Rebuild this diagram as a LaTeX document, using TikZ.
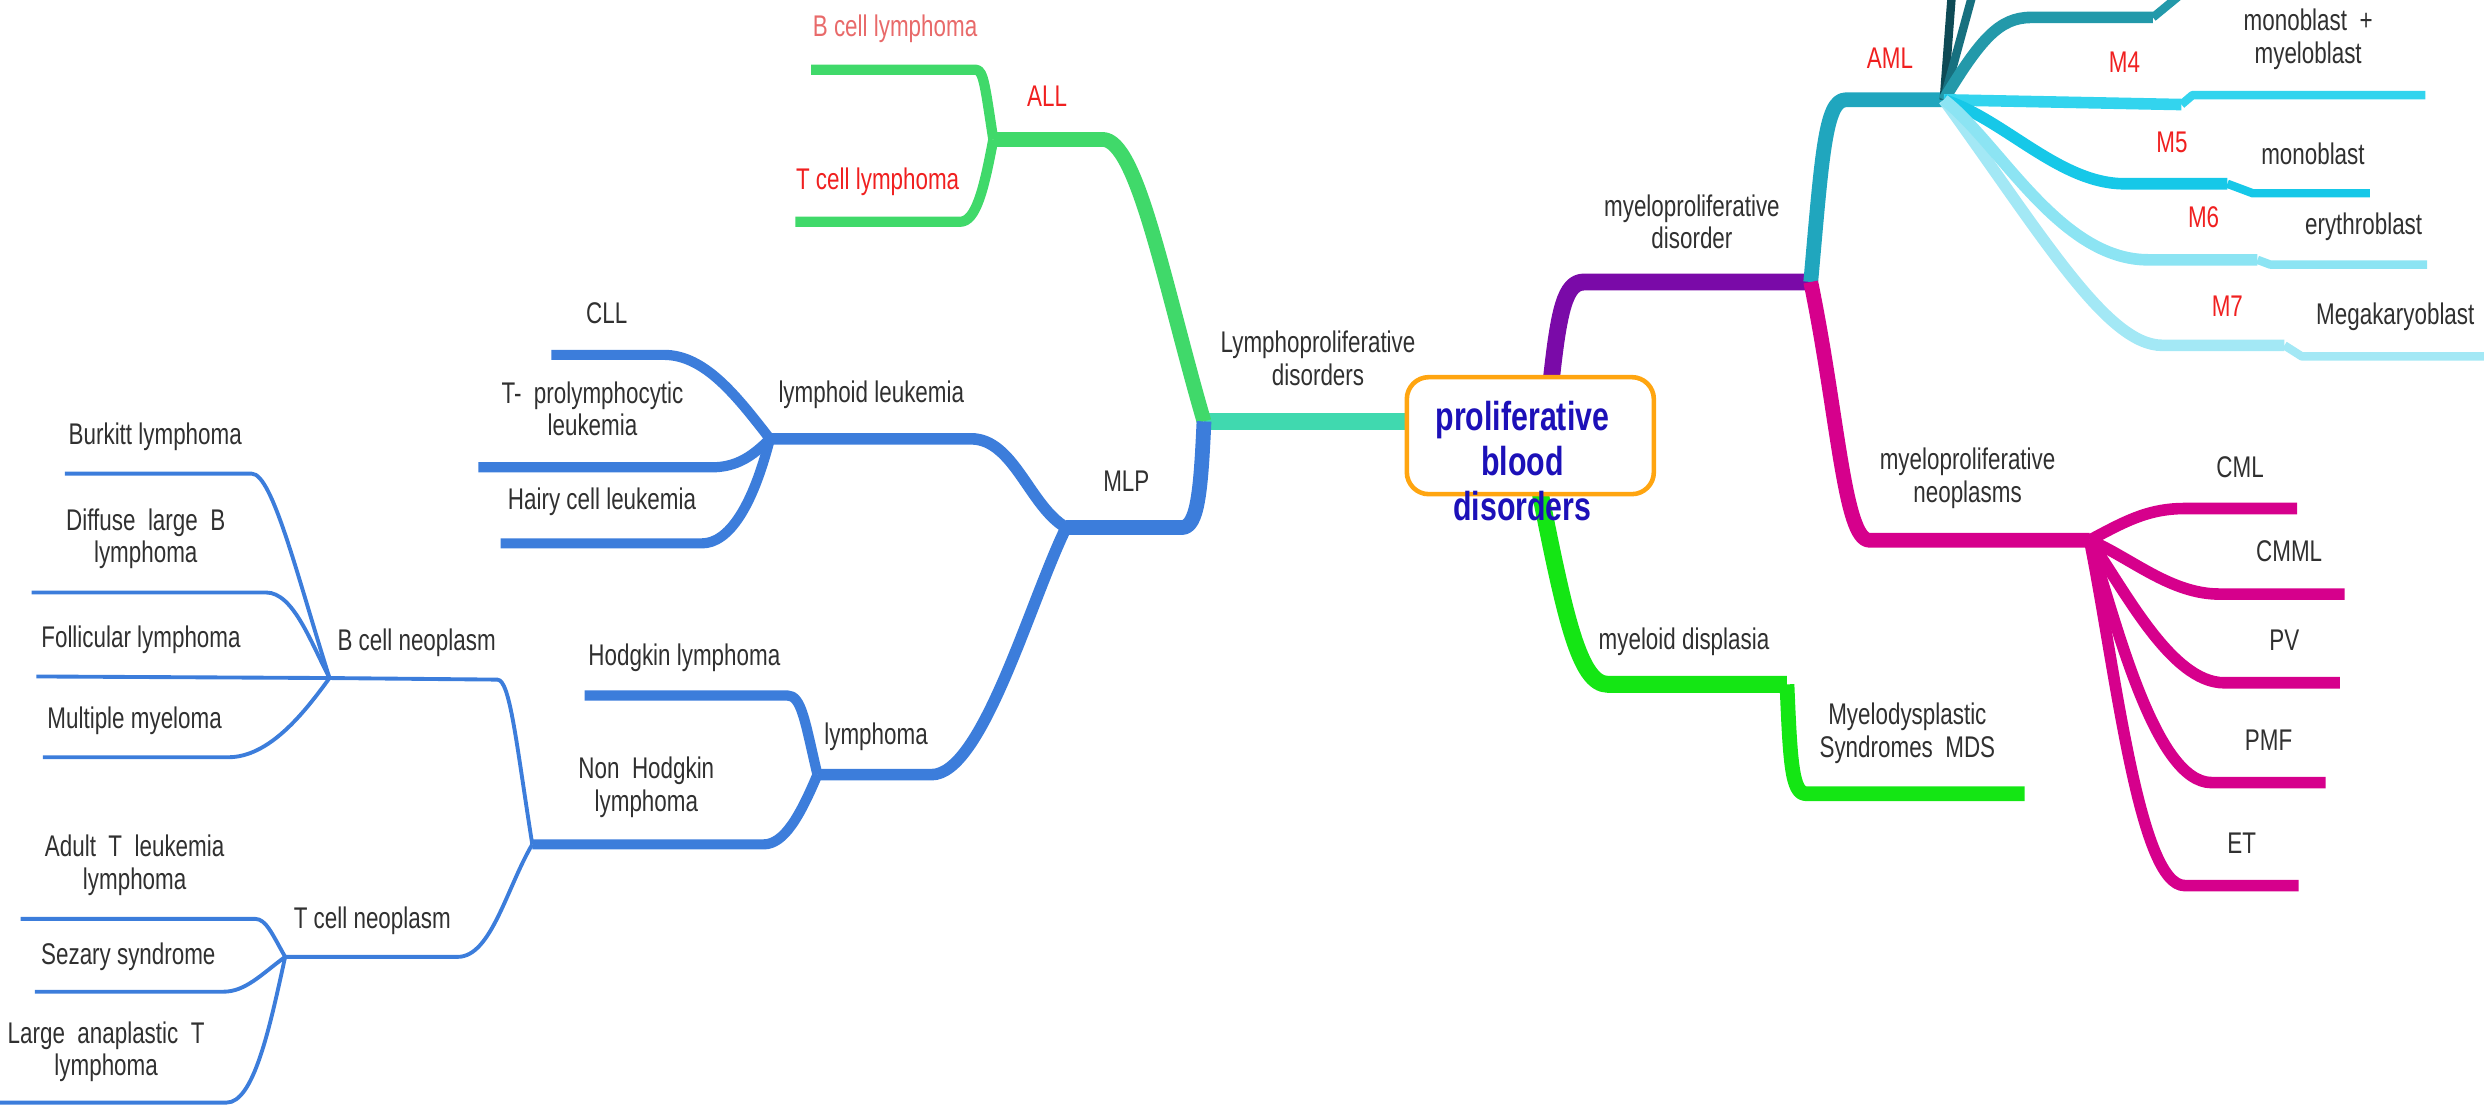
\documentclass[tikz,border=0pt]{standalone}
\usepackage{fontspec}
\setmainfont{Liberation Sans}[FakeStretch=0.75]
\definecolor{cTeal}{RGB}{64,217,175}
\definecolor{cGreenA}{RGB}{64,217,106}
\definecolor{cBlue}{RGB}{60,125,219}
\definecolor{cPurple}{RGB}{122,10,168}
\definecolor{cAML}{RGB}{32,166,190}
\definecolor{cDark}{RGB}{14,74,85}
\definecolor{cDarkB}{RGB}{23,112,127}
\definecolor{cMx}{RGB}{35,153,170}
\definecolor{cMfour}{RGB}{51,212,238}
\definecolor{cMfive}{RGB}{22,200,232}
\definecolor{cMsix}{RGB}{140,228,243}
\definecolor{cMseven}{RGB}{163,232,245}
\definecolor{cMag}{RGB}{214,0,140}
\definecolor{cGreenB}{RGB}{20,230,20}
\definecolor{cOrange}{RGB}{255,165,16}
\definecolor{cTxt}{RGB}{48,48,48}
\definecolor{cRed}{RGB}{240,32,32}
\definecolor{cPink}{RGB}{232,106,106}
\definecolor{cRoot}{RGB}{28,16,184}
\newcommand\labfont{\fontsize{8.5}{9.3}\selectfont}
\newcommand\rootfont{\fontsize{11.5}{12.8}\selectfont\bfseries}
\begin{document}
\begin{tikzpicture}[x=0.1584mm,y=-0.1584mm,
  line join=round, line cap=butt,
  wA/.style={line width=4.8pt},
  wB/.style={line width=4.2pt},
  wC/.style={line width=3.3pt},
  wD/.style={line width=2.9pt},
  wE/.style={line width=2.4pt},
  wF/.style={line width=1.1pt},
  lbl/.style={font=\labfont, text=cTxt, align=center, inner sep=0pt},
  redlbl/.style={lbl, text=cRed},
  rootbox/.style={draw=cOrange, line width=1.3pt, fill=white, rounded corners=2.2mm,
     minimum width=24.7mm, minimum height=11.7mm, inner sep=0pt},
  roottext/.style={font=\rootfont, text=cRoot, align=center, inner sep=0pt}]
\useasboundingbox (0,0) rectangle (1568,700);

% ---------- coordinates ----------
\coordinate (rL) at (890,266);
\coordinate (rT) at (979,242);
\coordinate (rB) at (972,310);
\coordinate (lpJ) at (760,266);
\coordinate (allJ) at (627,88);
\coordinate (bclE) at (512,44);
\coordinate (tclE) at (502,140);
\coordinate (mlpJ) at (673,333);
\coordinate (llJ) at (486,277);
\coordinate (cllE) at (348,224);
\coordinate (tproE) at (302,295);
\coordinate (hairyE) at (316,343);
\coordinate (lymJ) at (516,489);
\coordinate (hodE) at (369,439);
\coordinate (nhJ) at (336,533);
\coordinate (bnJ) at (208,428);
\coordinate (burE) at (41,299);
\coordinate (difE) at (20,374);
\coordinate (folE) at (23,427);
\coordinate (mulE) at (27,478);
\coordinate (tnJ) at (180,604);
\coordinate (adE) at (13,580);
\coordinate (sezE) at (22,626);
\coordinate (larE) at (0,696);
\coordinate (mdJ) at (1143,178);
\coordinate (amlJ) at (1227,63);
\coordinate (dOne) at (1232,-3);
\coordinate (dTwo) at (1245,-3);
\coordinate (mxJ) at (1359,11);
\coordinate (mxE) at (1376,-3);
\coordinate (mfourJ) at (1377,66);
\coordinate (mfourE) at (1531,60);
\coordinate (mfiveJ) at (1406,116);
\coordinate (mfiveE) at (1496,122);
\coordinate (msixJ) at (1425,164);
\coordinate (msixE) at (1532,167);
\coordinate (msevenJ) at (1442,218);
\coordinate (msevenE) at (1568,225);
\coordinate (mnJ) at (1319,341);
\coordinate (cmlE) at (1450,321);
\coordinate (cmmlE) at (1480,375);
\coordinate (pvE) at (1477,431);
\coordinate (pmfE) at (1468,494);
\coordinate (etE) at (1451,559);
\coordinate (mdsJ) at (1128,432);
\coordinate (mdsE) at (1278,501);

% ---------- left: lymphoproliferative ----------
\draw[wA, cTeal] (rL) -- (lpJ);
\draw[wB, cGreenA] (lpJ) .. controls (735,180) and (718,88) .. (696,88) -- (allJ);
\draw[wD, cGreenA] (allJ) .. controls (622,56) and (621,44) .. (616,44) -- (bclE);
\draw[wD, cGreenA] (allJ) .. controls (621,120) and (616,140) .. (606,140) -- (tclE);
\draw[wB, cBlue] (lpJ) .. controls (758,310) and (756,333) .. (746,333) -- (mlpJ);
\draw[wC, cBlue] (mlpJ) .. controls (650,320) and (640,277) .. (613,277) -- (llJ);
\draw[wD, cBlue] (llJ) .. controls (465,250) and (445,224) .. (419,224) -- (cllE);
\draw[wD, cBlue] (llJ) .. controls (475,288) and (465,295) .. (449,295) -- (tproE);
\draw[wD, cBlue] (llJ) .. controls (475,320) and (460,343) .. (443,343) -- (hairyE);
\draw[wC, cBlue] (mlpJ) .. controls (650,380) and (620,489) .. (588,489) -- (lymJ);
\draw[wD, cBlue] (lymJ) .. controls (508,455) and (506,439) .. (497,439) -- (hodE);
\draw[wD, cBlue] (lymJ) .. controls (505,515) and (495,533) .. (482,533) -- (nhJ);
\draw[wF, cBlue] (nhJ) .. controls (326,470) and (322,429) .. (314,429) -- (bnJ);
\draw[wF, cBlue] (nhJ) .. controls (320,560) and (310,604) .. (289,604) -- (tnJ);
\draw[wF, cBlue] (bnJ) .. controls (188,365) and (172,299) .. (159,299) -- (burE);
\draw[wF, cBlue] (bnJ) .. controls (196,405) and (185,374) .. (168,374) -- (difE);
\draw[wF, cBlue] (bnJ) -- (folE);
\draw[wF, cBlue] (bnJ) .. controls (192,450) and (170,478) .. (144,478) -- (mulE);
\draw[wF, cBlue] (tnJ) .. controls (172,590) and (168,580) .. (161,580) -- (adE);
\draw[wF, cBlue] (tnJ) .. controls (165,615) and (155,626) .. (141,626) -- (sezE);
\draw[wF, cBlue] (tnJ) .. controls (170,650) and (160,696) .. (143,696) -- (larE);

% ---------- right: myeloproliferative ----------
\draw[wA, cPurple] (rT) .. controls (984,195) and (988,178) .. (1000,178) -- (mdJ);
\draw[wB, cAML] (mdJ) .. controls (1150,100) and (1152,63) .. (1165,63) -- (amlJ);
\draw[wE, cDark] (amlJ) -- (dOne);
\draw[wE, cDarkB] (amlJ) -- (dTwo);
\draw[wC, cMx] (amlJ) .. controls (1250,25) and (1262,11) .. (1282,11) -- (mxJ);
\draw[wE, cMx] (mxJ) -- (mxE);
\draw[wC, cMfour] (amlJ) -- (mfourJ);
\draw[wE, cMfour] (mfourJ) -- (1384,60) -- (mfourE);
\draw[wC, cMfive] (amlJ) .. controls (1265,75) and (1300,116) .. (1341,116) -- (mfiveJ);
\draw[wE, cMfive] (mfiveJ) -- (1422,122) -- (mfiveE);
\draw[wC, cMseven] (amlJ) .. controls (1290,150) and (1330,218) .. (1365,218) -- (msevenJ);
\draw[wE, cMseven] (msevenJ) -- (1453,225) -- (msevenE);
\draw[wC, cMsix] (amlJ) .. controls (1262,90) and (1300,164) .. (1356,164) -- (msixJ);
\draw[wE, cMsix] (msixJ) -- (1433,167) -- (msixE);
\draw[wB, cMag] (mdJ) .. controls (1160,260) and (1164,341) .. (1180,341) -- (mnJ);
\draw[wC, cMag] (mnJ) .. controls (1340,330) and (1355,321) .. (1379,321) -- (cmlE);
\draw[wC, cMag] (mnJ) .. controls (1345,352) and (1370,375) .. (1401,375) -- (cmmlE);
\draw[wC, cMag] (mnJ) .. controls (1340,370) and (1370,431) .. (1404,431) -- (pvE);
\draw[wC, cMag] (mnJ) .. controls (1335,390) and (1360,494) .. (1396,494) -- (pmfE);
\draw[wC, cMag] (mnJ) .. controls (1335,420) and (1350,559) .. (1379,559) -- (etE);
\draw[wA, cGreenB] (rB) .. controls (988,390) and (997,432) .. (1015,432) -- (mdsJ);
\draw[wB, cGreenB] (mdsJ) .. controls (1130,480) and (1131,501) .. (1140,501) -- (mdsE);

% ---------- root ----------
\node[rootbox] (root) at (966,275) {};
\node[roottext] (rootT) at (961,291) {proliferative\\blood\\disorders};

% ---------- labels ----------
\node[lbl] (tLP) at (832,226) {Lymphoproliferative\\disorders};
\node[redlbl, text=cPink] (tBCL) at (565,18) {B cell lymphoma};
\node[redlbl] (tALL) at (661,61) {ALL};
\node[redlbl] (tTCL) at (554,115) {T cell lymphoma};
\node[lbl] (tMLP) at (711,304) {MLP};
\node[lbl] (tLL) at (550,249) {lymphoid leukemia};
\node[lbl] (tCLL) at (383,198) {CLL};
\node[lbl] (tTP) at (374,258) {T-~~prolymphocytic\\leukemia};
\node[lbl] (tHairy) at (380,317) {Hairy cell leukemia};
\node[lbl] (tLym) at (553,465) {lymphoma};
\node[lbl] (tHod) at (432,415) {Hodgkin lymphoma};
\node[lbl] (tNH) at (408,497) {Non~~Hodgkin\\lymphoma};
\node[lbl] (tBN) at (263,406) {B cell neoplasm};
\node[lbl] (tBur) at (98,276) {Burkitt lymphoma};
\node[lbl] (tDif) at (92,340) {Diffuse~~large~~B\\lymphoma};
\node[lbl] (tFol) at (89,404) {Follicular lymphoma};
\node[lbl] (tMul) at (85,455) {Multiple myeloma};
\node[lbl] (tTN) at (235,581) {T cell neoplasm};
\node[lbl] (tAd) at (85,546) {Adult~~T~~leukemia\\lymphoma};
\node[lbl] (tSez) at (81,604) {Sezary syndrome};
\node[lbl] (tLar) at (67,664) {Large~~anaplastic~~T\\lymphoma};

\node[lbl] (tMD) at (1068,140) {myeloproliferative\\disorder};
\node[redlbl] (tAML) at (1193,37) {AML};
\node[redlbl] (tM4) at (1341,39) {M4};
\node[lbl] (tM4b) at (1457,25) {monoblast~~+\\myeloblast};
\node[redlbl] (tM5) at (1371,90) {M5};
\node[lbl] (tM5b) at (1460,97) {monoblast};
\node[redlbl] (tM6) at (1391,137) {M6};
\node[lbl] (tM6b) at (1492,143) {erythroblast};
\node[redlbl] (tM7) at (1406,193) {M7};
\node[lbl] (tM7b) at (1512,200) {Megakaryoblast};
\node[lbl] (tMN) at (1242,302) {myeloproliferative\\neoplasms};
\node[lbl] (tCML) at (1414,295) {CML};
\node[lbl] (tCMML) at (1445,348) {CMML};
\node[lbl] (tPV) at (1442,404) {PV};
\node[lbl] (tPMF) at (1432,467) {PMF};
\node[lbl] (tET) at (1415,532) {ET};
\node[lbl] (tMyd) at (1063,405) {myeloid displasia};
\node[lbl] (tMDS) at (1204,463) {Myelodysplastic\\Syndromes~~MDS};
\end{tikzpicture}
\end{document}
